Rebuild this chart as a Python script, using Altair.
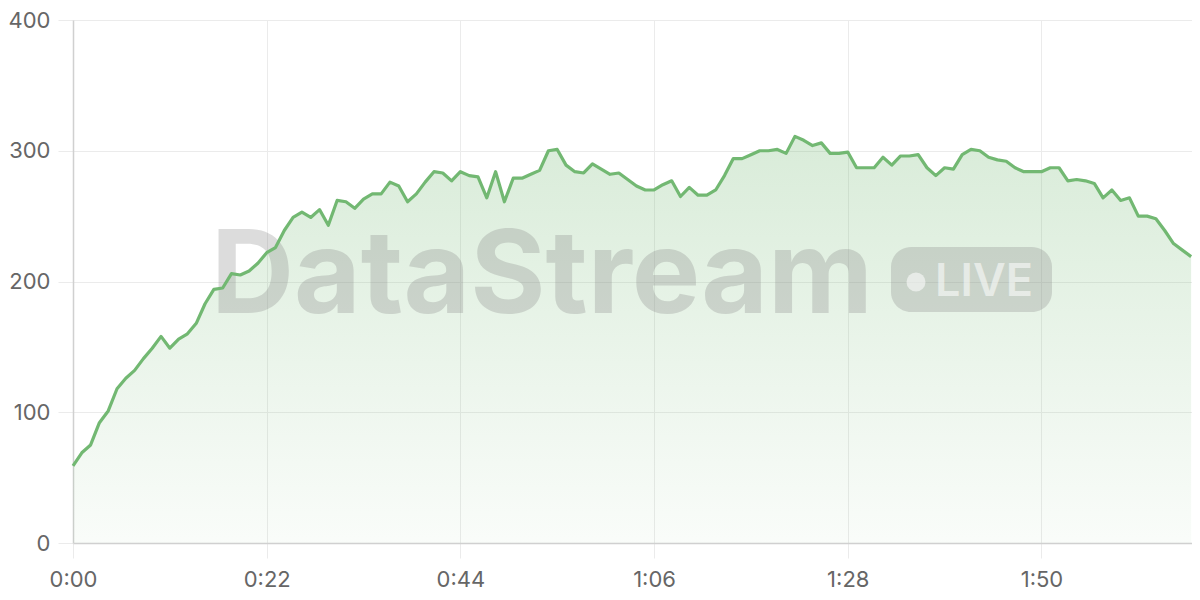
import altair as alt
import pandas as pd

# ---- data (one sample per second) ----
seconds = list(range(128))
values = [
    59, 69, 75, 92, 101, 118, 126, 132, 141, 149,
    158, 149, 156, 160, 168, 183, 194, 195, 206, 205,
    208, 214, 222, 226, 239, 249, 253, 249, 255, 243,
    262, 261, 256, 263, 267, 267, 276, 273, 261, 267,
    276, 284, 283, 277, 284, 281, 280, 264, 284, 261,
    279, 279, 282, 285, 300, 301, 289, 284, 283, 290,
    286, 282, 283, 278, 273, 270, 270, 274, 277, 265,
    272, 266, 266, 270, 281, 294, 294, 297, 300, 300,
    301, 298, 311, 308, 304, 306, 298, 298, 299, 287,
    287, 287, 295, 289, 296, 296, 297, 287, 281, 287,
    286, 297, 301, 300, 295, 293, 292, 287, 284, 284,
    284, 287, 287, 277, 278, 277, 275, 264, 270, 262,
    264, 250, 250, 248, 239, 229, 224, 219,
]
x_ticks = [0, 22, 44, 66, 88, 110]
y_ticks = [0, 100, 200, 300, 400]
watermark_title = ["DataStream"]
watermark_badge = ["LIVE"]

df = pd.DataFrame({"t": seconds, "v": values})

GREEN = "#72b872"
FONT = "Inter"

x_enc = alt.X(
    "t:Q",
    scale=alt.Scale(domain=[0, 127.1], nice=False, zero=False),
    axis=alt.Axis(
        values=x_ticks,
        title=None,
        labelExpr="floor(datum.value/60) + ':' + (datum.value%60 < 10 ? '0' : '') + (datum.value%60)",
        labelPadding=11,
        labelFlush=False,
    ),
)
y_enc = alt.Y(
    "v:Q",
    scale=alt.Scale(domain=[0, 400], nice=False),
    axis=alt.Axis(values=y_ticks, title=None, labelPadding=8),
)

base = alt.Chart(df)

area = base.mark_area(
    color=alt.Gradient(
        gradient="linear",
        stops=[
            alt.GradientStop(color="rgba(114,184,114,0.27)", offset=0),
            alt.GradientStop(color="rgba(114,184,114,0.04)", offset=1),
        ],
        x1=1, x2=1, y1=0, y2=1,
    )
).encode(x=x_enc, y=y_enc)

line = base.mark_line(color=GREEN, strokeWidth=3.2, strokeJoin="round").encode(x=x_enc, y=y_enc)

wm_text = alt.Chart(pd.DataFrame({"label": watermark_title})).mark_text(
    font=FONT, fontSize=115, fontWeight="bold", align="left", baseline="alphabetic",
    color="#888888", opacity=0.29,
).encode(x=alt.value(138), y=alt.value(293), text="label:N")

wm_pill = alt.Chart(pd.DataFrame({"label": watermark_badge})).mark_rect(
    cornerRadius=20, color="#888888", opacity=0.29,
).encode(x=alt.value(818), x2=alt.value(979), y=alt.value(227), y2=alt.value(292))

wm_dot = alt.Chart(pd.DataFrame({"label": watermark_badge})).mark_circle(
    size=360, color="#ffffff", opacity=0.55,
).encode(x=alt.value(843), y=alt.value(262))

wm_live = alt.Chart(pd.DataFrame({"label": watermark_badge})).mark_text(
    font=FONT, fontSize=45, fontWeight=600, align="left", baseline="alphabetic",
    color="#ffffff", opacity=0.55,
).encode(x=alt.value(862), y=alt.value(276), text="label:N")

chart = (
    alt.layer(area, wm_text, wm_pill, wm_dot, wm_live, line)
    .properties(
        width=1119,
        height=523,
        autosize=alt.AutoSizeParams(type="none"),
        padding={"left": 65, "top": 12, "right": 0, "bottom": 49},
        background="#ffffff",
    )
    .configure_view(stroke=None)
    .configure_axis(
        labelFont=FONT,
        labelFontSize=22,
        labelColor="#666666",
        gridColor="#ebebeb",
        gridWidth=1,
        tickColor="#ebebeb",
        tickSize=15,
        domainColor="#d0d0d0",
        domainWidth=1.5,
    )
)

chart.save("out.html", embed_options={"renderer": "svg", "actions": False})
